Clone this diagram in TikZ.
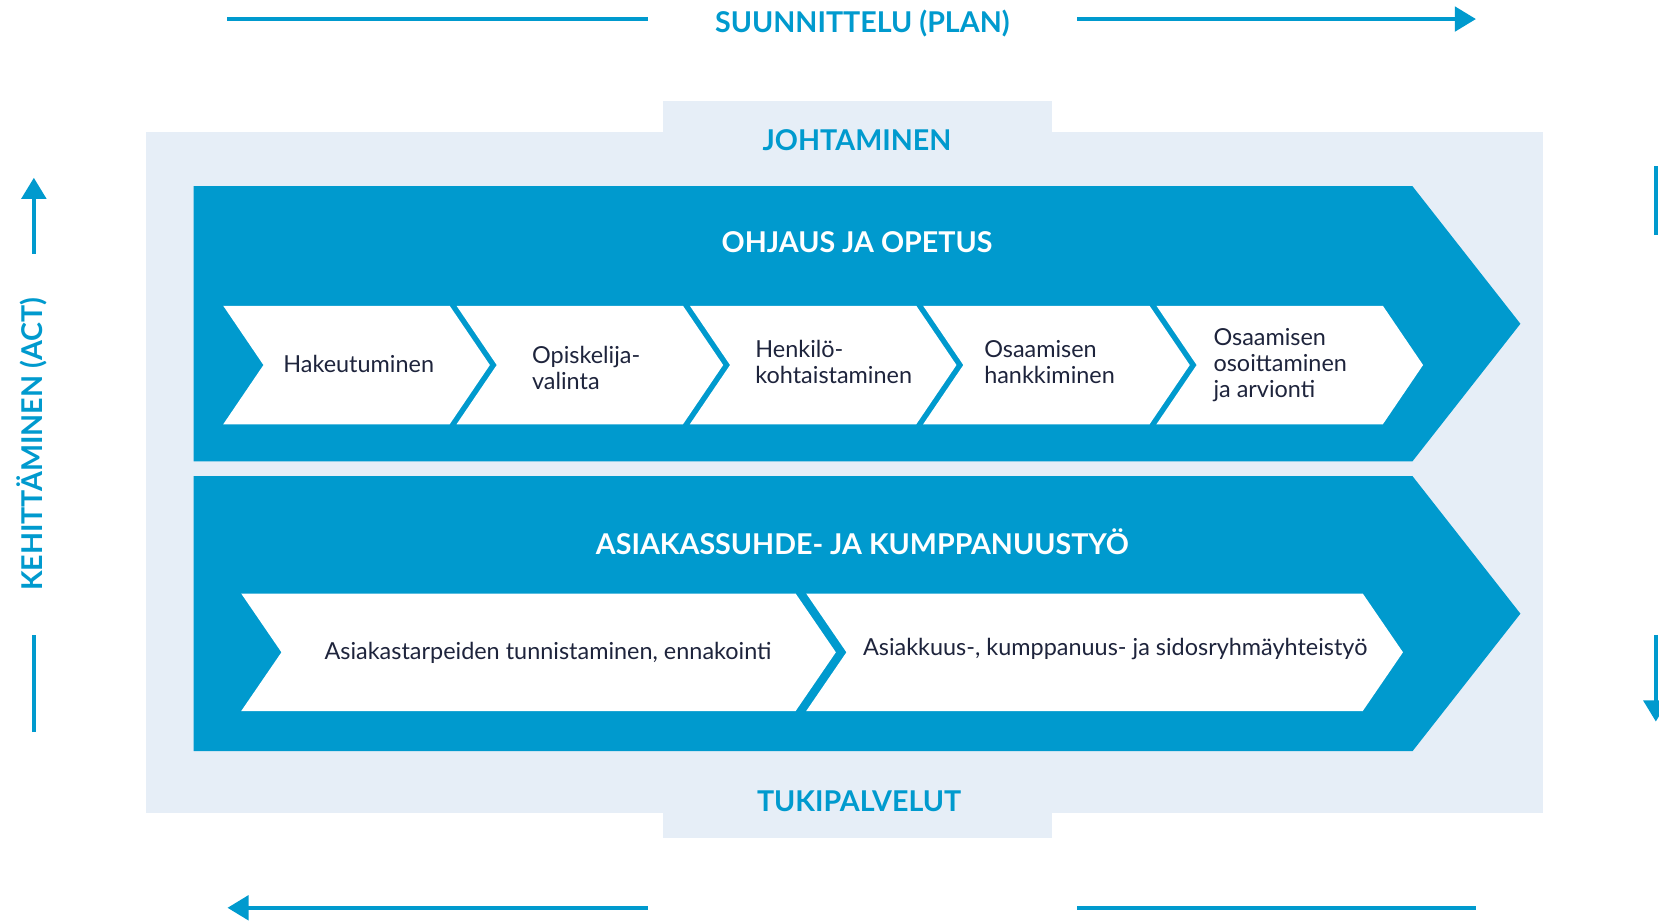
\documentclass[tikz,border=0pt]{standalone}
\usepackage{fontspec}
\setmainfont{Lato}
\usetikzlibrary{arrows.meta,positioning}
\definecolor{pdcablue}{RGB}{0,154,206}
\definecolor{pale}{RGB}{230,238,247}
\definecolor{ink}{RGB}{30,36,60}
\tikzset{head/.style={font=\fontsize{15.4}{18}\selectfont\bfseries, text=white, inner sep=0pt},
  palehead/.style={head, text=pdcablue},
  steptext/.style={font=\fontsize{12.6}{14.1}\selectfont, text=ink, align=left, inner sep=0pt},
  cycleline/.style={draw=pdcablue, line width=0.8mm},
  cyclearrow/.style={cycleline, -{Triangle[length=4mm,width=4.6mm]}}}
% white chevron: left x, top y, bottom y, right x
\newcommand\chevron[4]{\fill[white] (#1,#2) -- (#4,#2) -- ({#4+38},{(#2+#3)/2}) -- (#4,#3) -- (#1,#3) -- ({#1+38},{(#2+#3)/2}) -- cycle;}

\begin{document}
\begin{tikzpicture}[x=0.2mm,y=-0.2mm]
\clip (0,0) rectangle (1568,870);
\fill[white] (0,0) rectangle (1568,870);
% frame
\fill[pale] (138,125) rectangle (1458,768);
\fill[pale] (627,95) rectangle (994,792);
\node[palehead] (johto) at (810,132) {JOHTAMINEN};
\node[palehead] (tuki) at (812,757) {TUKIPALVELUT};
% upper big arrow
\fill[pdcablue] (183,176) -- (1335,176) -- (1437,306) -- (1335,436) -- (183,436) -- cycle;
\node[head] (ohjaus) at (810,229) {OHJAUS JA OPETUS};
\chevron{211}{289}{401}{425}
\chevron{431.5}{289}{401}{645.5}
\chevron{652}{289}{401}{866}
\chevron{872.5}{289}{401}{1086.5}
\chevron{1093}{289}{401}{1307}
\node[steptext] (hak) at (339,344) {Hakeutuminen};
\node[steptext] (opi) at (554,348) {Opiskelija-\\valinta};
\node[steptext] (hen) at (788,342) {Henkilö-\\kohtaistaminen};
\node[steptext] (han) at (992,342) {Osaamisen\\hankkiminen};
\node[steptext] (arv) at (1210,345) {Osaamisen\\osoittaminen\\ja arvionti};
% lower big arrow
\fill[pdcablue] (183,450) -- (1335,450) -- (1437,580) -- (1335,710) -- (183,710) -- cycle;
\node[head] (asiakas) at (815,512) {ASIAKASSUHDE- JA KUMPPANUUSTYÖ};
\chevron{228}{561}{672}{752}
\chevron{762}{561}{672}{1288}
\node[steptext] (tarve) at (518,617) {Asiakastarpeiden tunnistaminen, ennakointi};
\node[steptext] (yhteis) at (1054,613) {Asiakkuus-, kumppanuus- ja sidosryhmäyhteistyö};
% cycle round the frame
\node[palehead] (plan) at (815,22) {SUUNNITTELU (PLAN)};
\coordinate (p1) at (215,18);
\coordinate (p2) at (612,18);
\coordinate (p3) at (1018,18);
\coordinate (p4) at (1395,18);
\draw[cycleline] (p1) -- (p2);
\draw[cyclearrow] (p3) -- (p4);
\coordinate (c1) at (1565,157);
\coordinate (c2) at (1565,222);
\coordinate (c3) at (1565,600);
\coordinate (c4) at (1565,682);
\draw[cycleline] (c1) -- (c2);
\draw[cyclearrow] (c3) -- (c4);
\coordinate (d1) at (1395,858);
\coordinate (d2) at (1018,858);
\coordinate (d3) at (612,858);
\coordinate (d4) at (215,858);
\draw[cycleline] (d1) -- (d2);
\draw[cyclearrow] (d3) -- (d4);
\node[palehead, rotate=90] (act) at (30,420) {KEHITTÄMINEN (ACT)};
\coordinate (a1) at (32,692);
\coordinate (a2) at (32,600);
\coordinate (a3) at (32,240);
\coordinate (a4) at (32,168);
\draw[cycleline] (a1) -- (a2);
\draw[cyclearrow] (a3) -- (a4);
\end{tikzpicture}
\end{document}
